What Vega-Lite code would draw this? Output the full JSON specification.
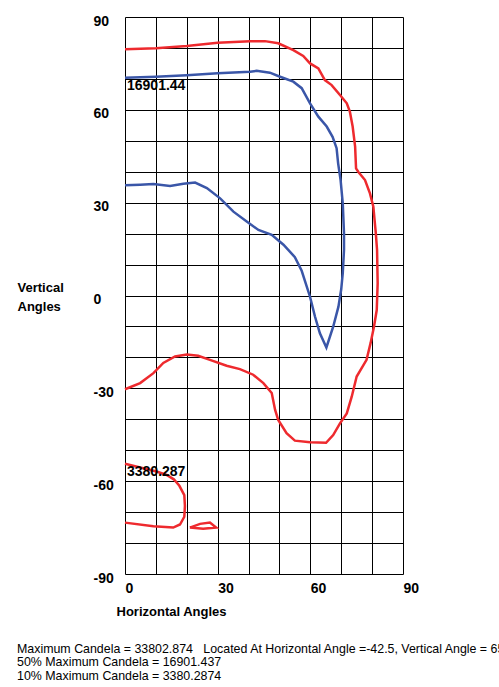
{
  "$schema": "https://vega.github.io/schema/vega-lite/v6.json",
  "autosize": "none",
  "padding": {"left": 125, "top": 17, "right": 96, "bottom": 113},
  "width": 278,
  "height": 557,
  "background": "white",
  "config": {
    "font": "Liberation Sans",
    "view": {"stroke": null}
  },
  "title": {
    "text": [
      "Maximum Candela = 33802.874\u00a0\u00a0\u00a0Located At Horizontal Angle =-42.5, Vertical Angle = 65",
      "50% Maximum Candela = 16901.437",
      "10% Maximum Candela = 3380.2874"
    ],
    "orient": "bottom",
    "anchor": "start",
    "frame": "bounds",
    "align": "left",
    "baseline": "top",
    "offset": 25,
    "dx": 0,
    "fontSize": 12.4,
    "fontWeight": "normal",
    "lineHeight": 13.3,
    "color": "black"
  },
  "data": {
    "values": [
      {"level": "10%", "seg": "r1", "i": 0, "h": 0, "v": 79.6},
      {"level": "10%", "seg": "r1", "i": 1, "h": 10, "v": 79.9},
      {"level": "10%", "seg": "r1", "i": 2, "h": 20, "v": 80.6},
      {"level": "10%", "seg": "r1", "i": 3, "h": 30, "v": 81.7},
      {"level": "10%", "seg": "r1", "i": 4, "h": 40.5, "v": 82.2},
      {"level": "10%", "seg": "r1", "i": 5, "h": 45.3, "v": 82.2},
      {"level": "10%", "seg": "r1", "i": 6, "h": 49.6, "v": 81.5},
      {"level": "10%", "seg": "r1", "i": 7, "h": 54.5, "v": 79.3},
      {"level": "10%", "seg": "r1", "i": 8, "h": 57.7, "v": 77.4},
      {"level": "10%", "seg": "r1", "i": 9, "h": 59.9, "v": 75.0},
      {"level": "10%", "seg": "r1", "i": 10, "h": 62.6, "v": 73.4},
      {"level": "10%", "seg": "r1", "i": 11, "h": 64.7, "v": 69.6},
      {"level": "10%", "seg": "r1", "i": 12, "h": 66.9, "v": 68.0},
      {"level": "10%", "seg": "r1", "i": 13, "h": 69.6, "v": 64.8},
      {"level": "10%", "seg": "r1", "i": 14, "h": 71.8, "v": 62.1},
      {"level": "10%", "seg": "r1", "i": 15, "h": 72.8, "v": 59.4},
      {"level": "10%", "seg": "r1", "i": 16, "h": 73.7, "v": 54.6},
      {"level": "10%", "seg": "r1", "i": 17, "h": 74.5, "v": 48.1},
      {"level": "10%", "seg": "r1", "i": 18, "h": 74.8, "v": 41.1},
      {"level": "10%", "seg": "r1", "i": 19, "h": 75.5, "v": 40.0},
      {"level": "10%", "seg": "r1", "i": 20, "h": 77.7, "v": 37.3},
      {"level": "10%", "seg": "r1", "i": 21, "h": 79.3, "v": 33.0},
      {"level": "10%", "seg": "r1", "i": 22, "h": 80.4, "v": 28.7},
      {"level": "10%", "seg": "r1", "i": 23, "h": 81.2, "v": 20.1},
      {"level": "10%", "seg": "r1", "i": 24, "h": 81.6, "v": 14.7},
      {"level": "10%", "seg": "r1", "i": 25, "h": 81.8, "v": 4.0},
      {"level": "10%", "seg": "r1", "i": 26, "h": 81.5, "v": -4.7},
      {"level": "10%", "seg": "r1", "i": 27, "h": 80.6, "v": -10.1},
      {"level": "10%", "seg": "r1", "i": 28, "h": 79.5, "v": -15.4},
      {"level": "10%", "seg": "r1", "i": 29, "h": 78.2, "v": -20.8},
      {"level": "10%", "seg": "r1", "i": 30, "h": 75.0, "v": -26.2},
      {"level": "10%", "seg": "r1", "i": 31, "h": 73.4, "v": -32.7},
      {"level": "10%", "seg": "r1", "i": 32, "h": 71.8, "v": -38.1},
      {"level": "10%", "seg": "r1", "i": 33, "h": 69.6, "v": -41.3},
      {"level": "10%", "seg": "r1", "i": 34, "h": 67.4, "v": -45.1},
      {"level": "10%", "seg": "r1", "i": 35, "h": 65.1, "v": -47.6},
      {"level": "10%", "seg": "r1", "i": 36, "h": 59.9, "v": -47.4},
      {"level": "10%", "seg": "r1", "i": 37, "h": 55.0, "v": -46.9},
      {"level": "10%", "seg": "r1", "i": 38, "h": 52.3, "v": -44.5},
      {"level": "10%", "seg": "r1", "i": 39, "h": 49.6, "v": -40.2},
      {"level": "10%", "seg": "r1", "i": 40, "h": 48.6, "v": -37.0},
      {"level": "10%", "seg": "r1", "i": 41, "h": 47.5, "v": -31.5},
      {"level": "10%", "seg": "r1", "i": 42, "h": 44.8, "v": -28.3},
      {"level": "10%", "seg": "r1", "i": 43, "h": 41.5, "v": -25.6},
      {"level": "10%", "seg": "r1", "i": 44, "h": 37.2, "v": -23.8},
      {"level": "10%", "seg": "r1", "i": 45, "h": 32.9, "v": -22.7},
      {"level": "10%", "seg": "r1", "i": 46, "h": 27.5, "v": -20.8},
      {"level": "10%", "seg": "r1", "i": 47, "h": 23.7, "v": -19.5},
      {"level": "10%", "seg": "r1", "i": 48, "h": 20.0, "v": -19.1},
      {"level": "10%", "seg": "r1", "i": 49, "h": 16.2, "v": -19.7},
      {"level": "10%", "seg": "r1", "i": 50, "h": 12.4, "v": -21.8},
      {"level": "10%", "seg": "r1", "i": 51, "h": 9.2, "v": -25.1},
      {"level": "10%", "seg": "r1", "i": 52, "h": 4.9, "v": -28.3},
      {"level": "10%", "seg": "r1", "i": 53, "h": 0, "v": -30.3},

      {"level": "10%", "seg": "r2", "i": 0, "h": 0, "v": -54.4},
      {"level": "10%", "seg": "r2", "i": 1, "h": 4.9, "v": -55.6},
      {"level": "10%", "seg": "r2", "i": 2, "h": 10.2, "v": -56.9},
      {"level": "10%", "seg": "r2", "i": 3, "h": 13.5, "v": -58.0},
      {"level": "10%", "seg": "r2", "i": 4, "h": 15.8, "v": -59.4},
      {"level": "10%", "seg": "r2", "i": 5, "h": 17.6, "v": -61.5},
      {"level": "10%", "seg": "r2", "i": 6, "h": 19.2, "v": -64.5},
      {"level": "10%", "seg": "r2", "i": 7, "h": 19.4, "v": -68.0},
      {"level": "10%", "seg": "r2", "i": 8, "h": 19.2, "v": -71.5},
      {"level": "10%", "seg": "r2", "i": 9, "h": 17.8, "v": -74.0},
      {"level": "10%", "seg": "r2", "i": 10, "h": 15.6, "v": -75.0},
      {"level": "10%", "seg": "r2", "i": 11, "h": 9.2, "v": -74.6},
      {"level": "10%", "seg": "r2", "i": 12, "h": 0, "v": -73.4},

      {"level": "10%", "seg": "r3", "i": 0, "h": 21.0, "v": -75.0},
      {"level": "10%", "seg": "r3", "i": 1, "h": 24.3, "v": -73.8},
      {"level": "10%", "seg": "r3", "i": 2, "h": 27.5, "v": -73.4},
      {"level": "10%", "seg": "r3", "i": 3, "h": 29.5, "v": -75.0},
      {"level": "10%", "seg": "r3", "i": 4, "h": 25.3, "v": -75.4},
      {"level": "10%", "seg": "r3", "i": 5, "h": 21.0, "v": -75.0},

      {"level": "50%", "seg": "b1", "i": 0, "h": 0, "v": 70.4},
      {"level": "50%", "seg": "b1", "i": 1, "h": 10, "v": 70.7},
      {"level": "50%", "seg": "b1", "i": 2, "h": 20, "v": 71.2},
      {"level": "50%", "seg": "b1", "i": 3, "h": 30, "v": 71.8},
      {"level": "50%", "seg": "b1", "i": 4, "h": 40.5, "v": 72.3},
      {"level": "50%", "seg": "b1", "i": 5, "h": 42.6, "v": 72.6},
      {"level": "50%", "seg": "b1", "i": 6, "h": 46.9, "v": 72.0},
      {"level": "50%", "seg": "b1", "i": 7, "h": 50.2, "v": 70.7},
      {"level": "50%", "seg": "b1", "i": 8, "h": 54.5, "v": 69.1},
      {"level": "50%", "seg": "b1", "i": 9, "h": 57.2, "v": 67.0},
      {"level": "50%", "seg": "b1", "i": 10, "h": 59.9, "v": 62.1},
      {"level": "50%", "seg": "b1", "i": 11, "h": 62.6, "v": 57.8},
      {"level": "50%", "seg": "b1", "i": 12, "h": 65.3, "v": 54.6},
      {"level": "50%", "seg": "b1", "i": 13, "h": 67.2, "v": 51.3},
      {"level": "50%", "seg": "b1", "i": 14, "h": 68.5, "v": 47.6},
      {"level": "50%", "seg": "b1", "i": 15, "h": 69.0, "v": 42.7},
      {"level": "50%", "seg": "b1", "i": 16, "h": 69.8, "v": 37.3},
      {"level": "50%", "seg": "b1", "i": 17, "h": 70.5, "v": 29.8},
      {"level": "50%", "seg": "b1", "i": 18, "h": 70.9, "v": 20.1},
      {"level": "50%", "seg": "b1", "i": 19, "h": 70.9, "v": 14.7},
      {"level": "50%", "seg": "b1", "i": 20, "h": 70.5, "v": 7.2},
      {"level": "50%", "seg": "b1", "i": 21, "h": 70.0, "v": 2.0},
      {"level": "50%", "seg": "b1", "i": 22, "h": 69.1, "v": -3.6},
      {"level": "50%", "seg": "b1", "i": 23, "h": 67.4, "v": -10.1},
      {"level": "50%", "seg": "b1", "i": 24, "h": 65.2, "v": -16.8},
      {"level": "50%", "seg": "b1", "i": 25, "h": 63.1, "v": -12.2},
      {"level": "50%", "seg": "b1", "i": 26, "h": 61.5, "v": -6.8},
      {"level": "50%", "seg": "b1", "i": 27, "h": 59.9, "v": -0.4},
      {"level": "50%", "seg": "b1", "i": 28, "h": 57.2, "v": 8.0},
      {"level": "50%", "seg": "b1", "i": 29, "h": 55.0, "v": 12.4},
      {"level": "50%", "seg": "b1", "i": 30, "h": 51.3, "v": 16.4},
      {"level": "50%", "seg": "b1", "i": 31, "h": 47.5, "v": 19.6},
      {"level": "50%", "seg": "b1", "i": 32, "h": 43.2, "v": 21.2},
      {"level": "50%", "seg": "b1", "i": 33, "h": 39.4, "v": 23.9},
      {"level": "50%", "seg": "b1", "i": 34, "h": 35.1, "v": 27.1},
      {"level": "50%", "seg": "b1", "i": 35, "h": 30.8, "v": 31.4},
      {"level": "50%", "seg": "b1", "i": 36, "h": 26.5, "v": 34.7},
      {"level": "50%", "seg": "b1", "i": 37, "h": 22.7, "v": 36.5},
      {"level": "50%", "seg": "b1", "i": 38, "h": 18.9, "v": 36.1},
      {"level": "50%", "seg": "b1", "i": 39, "h": 14.6, "v": 35.4},
      {"level": "50%", "seg": "b1", "i": 40, "h": 9.2, "v": 36.0},
      {"level": "50%", "seg": "b1", "i": 41, "h": 4.9, "v": 35.8},
      {"level": "50%", "seg": "b1", "i": 42, "h": 0, "v": 35.6}
    ]
  },
  "encoding": {
    "x": {
      "field": "h",
      "type": "quantitative",
      "scale": {"domain": [0, 90], "nice": false, "zero": false},
      "axis": {
        "values": [0, 10, 20, 30, 40, 50, 60, 70, 80, 90],
        "labelExpr": "datum.value % 30 == 0 ? '' + datum.value : ''",
        "grid": true,
        "gridColor": "black",
        "gridOpacity": 1,
        "gridWidth": 1,
        "domain": false,
        "ticks": false,
        "tickSize": 0,
        "labelAlign": "left",
        "labelBaseline": "top",
        "labelPadding": 7,
        "labelFontSize": 14,
        "labelFontWeight": "bold",
        "labelColor": "black",
        "title": "Horizontal Angles",
        "titleFontSize": 13,
        "titleFontWeight": "bold",
        "titleColor": "black",
        "titleAnchor": "start",
        "titleAlign": "left",
        "titleBaseline": "alphabetic",
        "titleX": -9,
        "titleY": 41
      }
    },
    "y": {
      "field": "v",
      "type": "quantitative",
      "scale": {"domain": [-90, 90], "nice": false, "zero": false},
      "axis": {
        "values": [-90, -80, -70, -60, -50, -40, -30, -20, -10, 0, 10, 20, 30, 40, 50, 60, 70, 80, 90],
        "labelExpr": "datum.value % 30 == 0 ? '' + datum.value : ''",
        "grid": true,
        "gridColor": "black",
        "gridOpacity": 1,
        "gridWidth": 1,
        "domain": false,
        "ticks": false,
        "tickSize": 0,
        "labelAlign": "left",
        "labelBaseline": "middle",
        "labelPadding": 32,
        "labelOffset": 4,
        "labelFontSize": 14,
        "labelFontWeight": "bold",
        "labelColor": "black",
        "title": ["Vertical", "Angles"],
        "titleFontSize": 13,
        "titleFontWeight": "bold",
        "titleColor": "black",
        "titleAngle": 0,
        "titleAlign": "left",
        "titleBaseline": "alphabetic",
        "titleLineHeight": 19,
        "titleX": -108,
        "titleY": 274
      }
    }
  },
  "layer": [
    {
      "mark": {"type": "line", "strokeWidth": 2.5, "interpolate": "linear"},
      "encoding": {
        "color": {
          "field": "level",
          "type": "nominal",
          "scale": {"domain": ["50%", "10%"], "range": ["#3a56a8", "#ee2a2e"]},
          "legend": null
        },
        "detail": {"field": "seg"},
        "order": {"field": "i", "type": "quantitative"}
      }
    },
    {
      "data": {
        "values": [
          {"label": "16901.44", "h": 0, "v": 67.7},
          {"label": "3380.287", "h": 0, "v": -56.9}
        ]
      },
      "mark": {
        "type": "text",
        "align": "left",
        "baseline": "middle",
        "dx": 2,
        "fontSize": 14,
        "fontWeight": "bold",
        "color": "black"
      },
      "encoding": {
        "text": {"field": "label"}
      }
    }
  ]
}
